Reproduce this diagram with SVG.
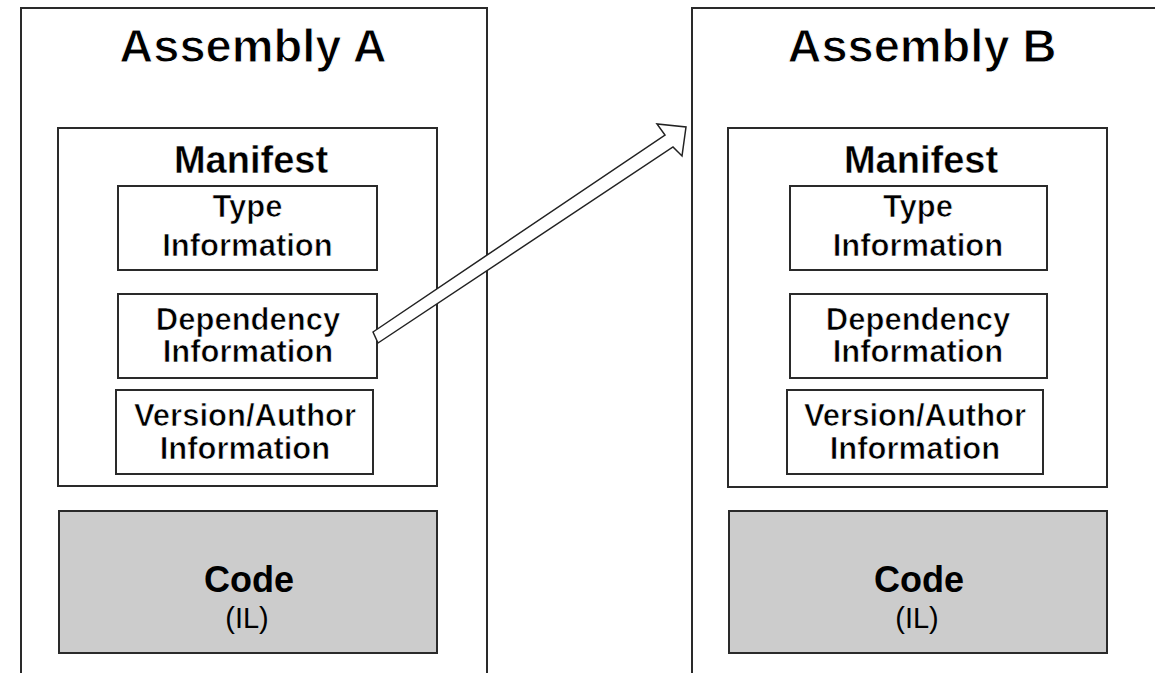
<svg xmlns="http://www.w3.org/2000/svg" width="1155" height="673" viewBox="0 0 1155 673">
  <style>
    .outer { fill: #ffffff; stroke: #2a2a2a; stroke-width: 2; }
    .box { fill: #ffffff; stroke: #2a2a2a; stroke-width: 2; }
    .code { fill: #cccccc; stroke: #2a2a2a; stroke-width: 2; }
    text { font-family: "Liberation Sans", Arial, sans-serif; fill: #000000; text-anchor: middle; font-weight: bold; }
    .title { font-size: 47px; stroke: #ffffff; stroke-width: 1; }
    .manifest { font-size: 38px; stroke: #ffffff; stroke-width: 0.4; }
    .item { font-size: 31px; stroke: #ffffff; stroke-width: 0.7; }
    .codet { font-size: 36px; }
    .il { font-size: 29px; font-weight: normal; }
    .arrow { fill: #ffffff; stroke: #222222; stroke-width: 1.5; stroke-linejoin: miter; }
  </style>
  <rect width="1155" height="673" fill="#ffffff"/>

  <g id="assemblyA">
    <rect class="outer" x="21" y="8" width="466" height="700"/>
    <text class="title" x="253" y="62">Assembly A</text>
    <g id="manifestA">
      <rect class="box" x="58" y="128" width="379" height="358"/>
      <text class="manifest" x="251" y="173">Manifest</text>
    </g>
    <g id="typeA">
      <rect class="box" x="118" y="186" width="259" height="84"/>
      <text class="item" x="247.5" y="217">Type</text>
      <text class="item" x="247.5" y="256">Information</text>
    </g>
    <g id="depA">
      <rect class="box" x="118" y="294" width="259" height="84"/>
      <text class="item" x="248" y="330">Dependency</text>
      <text class="item" x="248" y="362">Information</text>
    </g>
    <g id="verA">
      <rect class="box" x="116" y="390" width="257" height="84"/>
      <text class="item" x="245" y="426">Version/Author</text>
      <text class="item" x="245" y="459">Information</text>
    </g>
    <g id="codeA">
      <rect class="code" x="59" y="511" width="378" height="142"/>
      <text class="codet" x="249" y="592">Code</text>
      <text class="il" x="247" y="628">(IL)</text>
    </g>
  </g>

  <g id="assemblyB">
    <rect class="outer" x="692" y="8" width="520" height="700"/>
    <text class="title" x="922" y="62">Assembly B</text>
    <g id="manifestB">
      <rect class="box" x="728" y="128" width="379" height="359"/>
      <text class="manifest" x="921" y="173">Manifest</text>
    </g>
    <g id="typeB">
      <rect class="box" x="790" y="186" width="257" height="84"/>
      <text class="item" x="918" y="217">Type</text>
      <text class="item" x="918" y="256">Information</text>
    </g>
    <g id="depB">
      <rect class="box" x="790" y="294" width="257" height="84"/>
      <text class="item" x="918" y="330">Dependency</text>
      <text class="item" x="918" y="362">Information</text>
    </g>
    <g id="verB">
      <rect class="box" x="787" y="390" width="256" height="84"/>
      <text class="item" x="915" y="426">Version/Author</text>
      <text class="item" x="915" y="459">Information</text>
    </g>
    <g id="codeB">
      <rect class="code" x="729" y="511" width="378" height="142"/>
      <text class="codet" x="919" y="592">Code</text>
      <text class="il" x="917" y="628">(IL)</text>
    </g>
  </g>

  <g id="connectors">
    <polygon class="arrow" points="373,332 665,135 657,124 686,127 682,156 673,147 378,343"/>
  </g>
</svg>
